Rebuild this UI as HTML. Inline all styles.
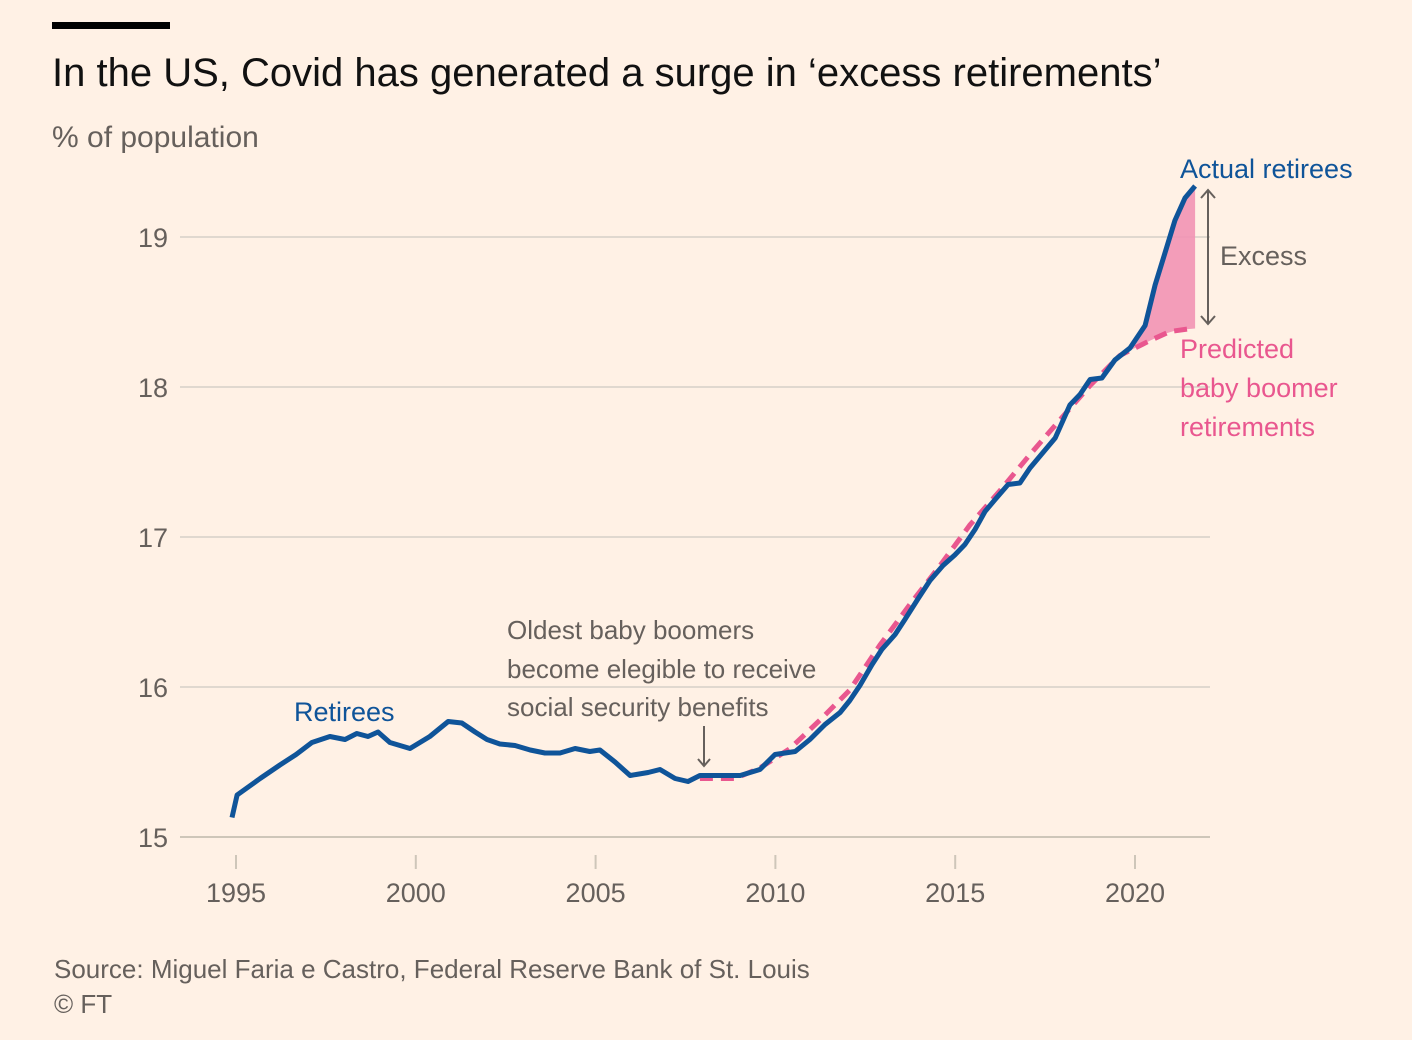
<!DOCTYPE html>
<html><head><meta charset="utf-8"><style>
html,body{margin:0;padding:0;background:#fff1e5;}
body{width:1412px;height:1040px;overflow:hidden;font-family:"Liberation Sans",sans-serif;}
</style></head><body>
<svg width="1412" height="1040" style="position:absolute;left:0;top:0">
<rect x="52" y="22" width="118" height="7" fill="#000"/>
<text x="52" y="86" font-size="40" fill="#111">In the US, Covid has generated a surge in ‘excess retirements’</text>
<text x="52" y="147" font-size="30" fill="#66605c">% of population</text>
<g id="grid"></g>
<g id="xaxis"></g>
<path id="area" fill="#f294b4" opacity="0.9"/>
<path id="pred" fill="none" stroke="#e9578f" stroke-width="5" stroke-dasharray="13,8"/>
<path id="actual" fill="none" stroke="#0f5499" stroke-width="5" stroke-linejoin="round"/>
<text x="294" y="721" font-size="27" fill="#0f5499">Retirees</text>
<text x="1180" y="178" font-size="27" fill="#0f5499">Actual retirees</text>
<text x="1220" y="265" font-size="27" fill="#66605c">Excess</text>
<g fill="#e9578f" font-size="27">
<text x="1180" y="358">Predicted</text><text x="1180" y="397">baby boomer</text><text x="1180" y="436">retirements</text></g>
<g stroke="#66605c" stroke-width="2" fill="none">
<line x1="1208" y1="190" x2="1208" y2="324"/><path d="M1201,198 L1208,190 L1215,198"/><path d="M1201,316 L1208,324 L1215,316"/></g>
<g fill="#66605c" font-size="26">
<text x="507" y="639">Oldest baby boomers</text><text x="507" y="678">become elegible to receive</text><text x="507" y="716">social security benefits</text></g>
<g stroke="#66605c" stroke-width="2" fill="none">
<line x1="704" y1="726" x2="704" y2="766"/><path d="M698,759 L704,766 L710,759"/></g>
<text x="54" y="978" font-size="26" fill="#66605c">Source: Miguel Faria e Castro, Federal Reserve Bank of St. Louis</text>
<text x="54" y="1013" font-size="26" fill="#66605c">© FT</text>
</svg>
<script>
const actualYears=[1994.89,1995.03,1995.67,1996.22,1996.67,1997.11,1997.61,1998.03,1998.36,1998.67,1998.95,1999.28,1999.84,2000.39,2000.90,2001.28,2001.65,2001.98,2002.34,2002.76,2003.18,2003.59,2004.01,2004.43,2004.84,2005.12,2005.54,2005.96,2006.46,2006.79,2007.21,2007.57,2007.90,2008.32,2009.02,2009.57,2009.99,2010.55,2010.96,2011.38,2011.80,2012.07,2012.35,2012.69,2012.96,2013.33,2013.60,2013.97,2014.30,2014.66,2014.99,2015.27,2015.55,2015.83,2016.11,2016.47,2016.80,2017.08,2017.50,2017.78,2018.19,2018.47,2018.75,2019.08,2019.44,2019.86,2020.28,2020.56,2020.83,2021.11,2021.39,2021.67];
const actualValues=[15.13,15.28,15.39,15.48,15.55,15.63,15.67,15.65,15.69,15.67,15.70,15.63,15.59,15.67,15.77,15.76,15.70,15.65,15.62,15.61,15.58,15.56,15.56,15.59,15.57,15.58,15.50,15.41,15.43,15.45,15.39,15.37,15.41,15.41,15.41,15.45,15.55,15.57,15.65,15.75,15.83,15.91,16.01,16.15,16.25,16.35,16.45,16.59,16.71,16.81,16.88,16.95,17.05,17.17,17.25,17.35,17.36,17.46,17.58,17.66,17.88,17.95,18.05,18.06,18.18,18.26,18.41,18.68,18.89,19.11,19.26,19.34];
const predYears=[2007.90,2008.88,2009.57,2010.41,2011.24,2012.07,2012.91,2013.74,2014.58,2015.41,2016.25,2017.08,2017.91,2018.75,2019.58,2020.42,2020.97,2021.58];
const predValues=[15.39,15.39,15.46,15.59,15.78,15.98,16.28,16.55,16.81,17.08,17.31,17.55,17.78,18.01,18.21,18.31,18.37,18.39];
const yTicks=[15,16,17,18,19];
const xTicks=[1995,2000,2005,2010,2015,2020];
const excessStart=2019.86;
const NS="http://www.w3.org/2000/svg";
const X=y=>236+(y-1995)*35.96;
const Y=v=>837-(v-15)*150;
const grid=document.getElementById('grid');
yTicks.forEach(t=>{
 const l=document.createElementNS(NS,'line');
 l.setAttribute('x1',180);l.setAttribute('x2',1210);l.setAttribute('y1',Y(t));l.setAttribute('y2',Y(t));
 l.setAttribute('stroke',t===15?'#cec6b9':'#e0d8cf');l.setAttribute('stroke-width',2);
 
 
 grid.appendChild(l);
 const tx=document.createElementNS(NS,'text');
 tx.setAttribute('x',168);tx.setAttribute('y',Y(t)+10);tx.setAttribute('text-anchor','end');
 tx.setAttribute('font-size',27);tx.setAttribute('fill','#66605c');tx.textContent=t;
 
 
 grid.appendChild(tx);
});
const xa=document.getElementById('xaxis');
xTicks.forEach(t=>{
 const l=document.createElementNS(NS,'line');
 l.setAttribute('x1',X(t));l.setAttribute('x2',X(t));l.setAttribute('y1',855);l.setAttribute('y2',869);
 l.setAttribute('stroke','#cec6b9');l.setAttribute('stroke-width',2);
 
 
 xa.appendChild(l);
 const tx=document.createElementNS(NS,'text');
 tx.setAttribute('x',X(t));tx.setAttribute('y',902);tx.setAttribute('text-anchor','middle');
 tx.setAttribute('font-size',27);tx.setAttribute('fill','#66605c');tx.textContent=t;
 
 
 xa.appendChild(tx);
});
const makePath=(xs,vs)=>xs.map((x,i)=>(i?'L':'M')+X(x).toFixed(1)+','+Y(vs[i]).toFixed(1)).join(' ');
document.getElementById('actual').setAttribute('d',makePath(actualYears,actualValues));
document.getElementById('pred').setAttribute('d',makePath(predYears,predValues));
function interp(xs,vs,x){for(let i=1;i<xs.length;i++){if(x<=xs[i]){const t=(x-xs[i-1])/(xs[i]-xs[i-1]);return vs[i-1]+t*(vs[i]-vs[i-1]);}}return vs[vs.length-1];}
const upperPts=[],lowerPts=[];
actualYears.forEach((y,i)=>{if(y>=excessStart){upperPts.push([X(y),Y(actualValues[i])]);lowerPts.push([X(y),Y(interp(predYears,predValues,y))]);}});
lowerPts.reverse();
document.getElementById('area').setAttribute('d','M'+upperPts.concat(lowerPts).map(p=>p[0].toFixed(1)+','+p[1].toFixed(1)).join(' L')+' Z');
</script>
</body></html>
